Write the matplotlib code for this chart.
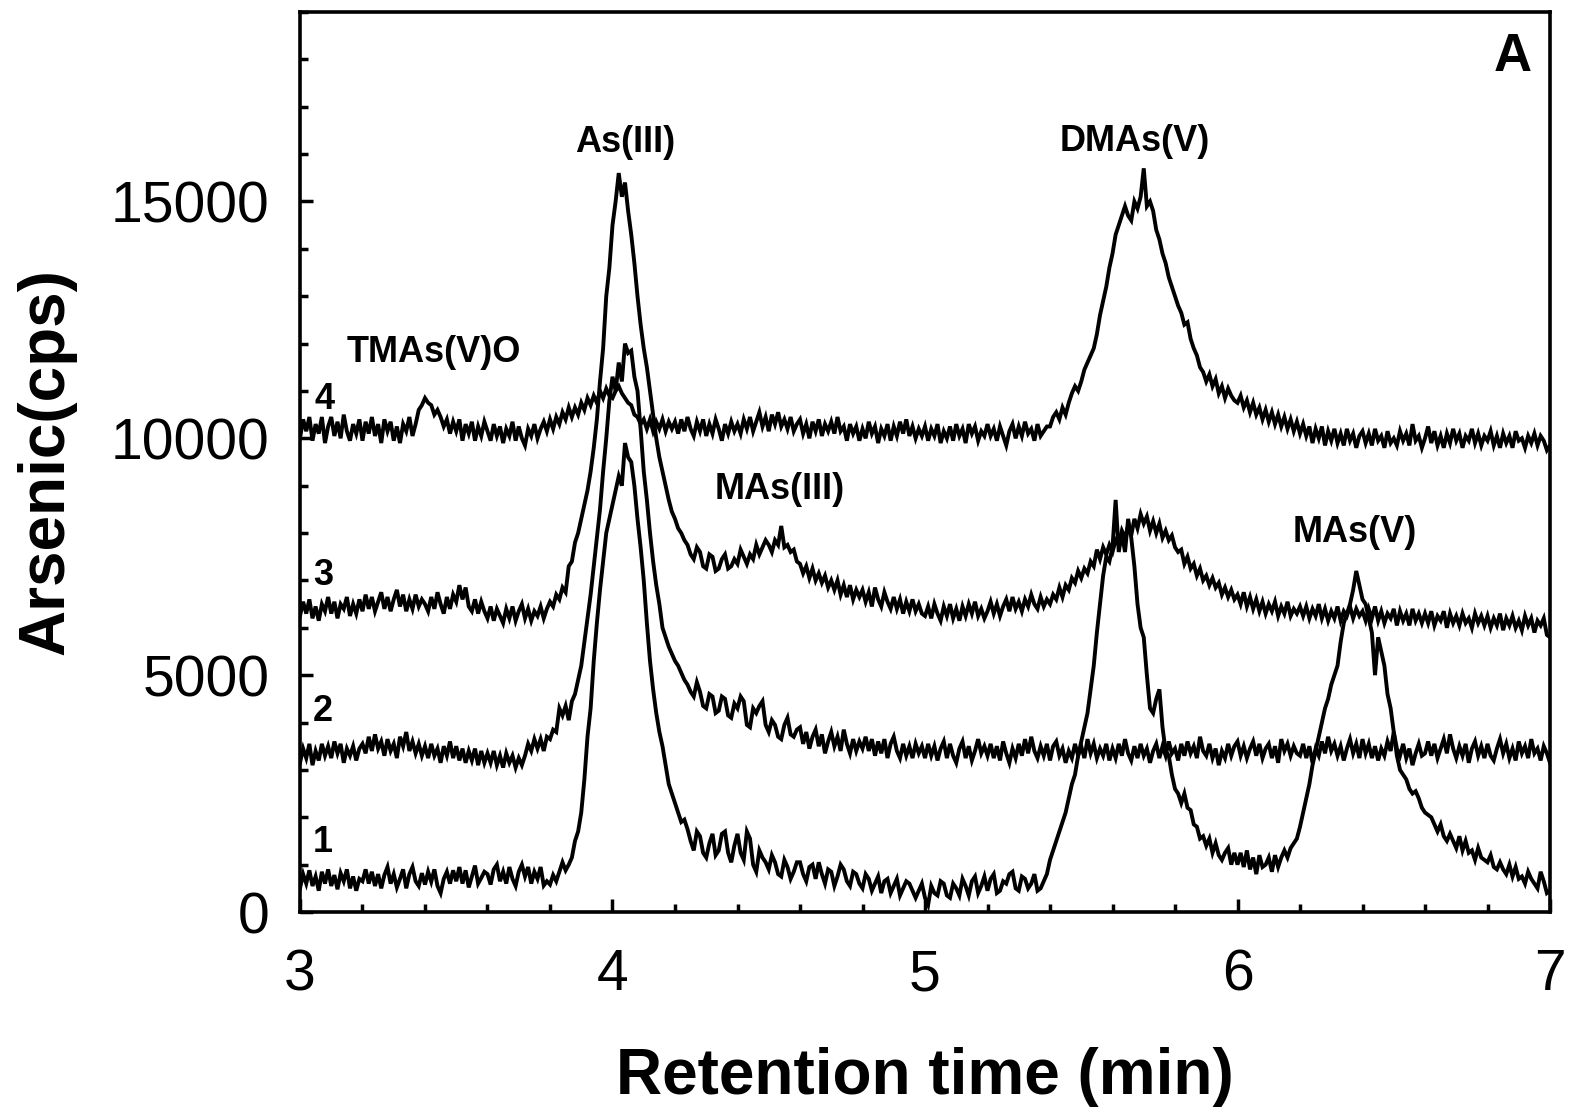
import matplotlib
matplotlib.use("Agg")
import matplotlib.pyplot as plt
from matplotlib.ticker import MultipleLocator
import numpy as np

plt.rcParams['font.family'] = ['Liberation Sans', 'DejaVu Sans']

# retention time grid (min): starts at 3.00, one reading every 0.01 min
time_start, time_step = 3.0, 0.01

# trace 1 (cps)
trace1 = [
    500, 800, 600, 880, 550, 750, 450, 850, 600, 900, 550, 780, 480, 820, 650, 900, 500, 750, 450, 700,
    650, 900, 600, 850, 550, 800, 500, 780, 950, 600, 800, 520, 700, 900, 500, 800, 950, 650, 550, 820,
    580, 850, 640, 900, 550, 400, 700, 850, 600, 880, 650, 950, 600, 880, 520, 750, 980, 600, 720, 850,
    800, 580, 900, 1000, 650, 850, 600, 950, 700, 550, 850, 1000, 750, 950, 600, 850, 700, 950, 560, 650,
    580, 780, 650, 850, 1050, 880, 1000, 1150, 1500, 1700, 2100, 2800, 3700, 4300, 5300, 6100, 6800, 7400, 8000, 8300,
    8600, 8900, 9200, 9000, 9900, 9600, 9500, 9000, 8300, 7700, 7000, 6100, 5300, 4700, 4200, 3800, 3500, 3100, 2700, 2500,
    2300, 2100, 1900, 1950, 1750, 1500, 1300, 1700, 1600, 1250, 1150, 1450, 1650, 1200, 1300, 1650, 1700, 1250, 1050, 1400,
    1650, 1250, 1100, 1700, 1550, 1000, 850, 1300, 1150, 1050, 900, 1200, 1050, 800, 750, 1100, 950, 700, 850, 1050,
    1050, 800, 650, 950, 1000, 700, 1050, 800, 600, 900, 850, 550, 750, 1000, 900, 650, 550, 850, 800, 600,
    500, 800, 700, 450, 600, 750, 400, 650, 700, 400, 550, 700, 350, 500, 650, 600, 450, 300, 450, 600,
    300, 150, 550, 400, 350, 650, 600, 350, 300, 600, 500, 350, 700, 550, 350, 650, 750, 400, 550, 750,
    450, 700, 800, 400, 450, 650, 600, 800, 850, 500, 450, 750, 700, 500, 600, 800, 450, 500, 650, 800,
    1100, 1300, 1500, 1700, 1900, 2100, 2400, 2700, 2900, 3300, 3600, 3900, 4200, 4700, 5200, 5900, 6500, 7100, 7500, 7400,
    7700, 8700, 7600, 8000, 7600, 8300, 7900, 7300, 6500, 6000, 5800, 5000, 4300, 4200, 4500, 4700, 3900, 3400, 3300, 2900,
    2600, 2500, 2300, 2500, 2200, 2150, 1850, 1800, 1550, 1600, 1400, 1550, 1250, 1450, 1200, 1100, 1250, 1350, 1000, 1250,
    1000, 1250, 950, 1300, 900, 1150, 800, 1200, 950, 1000, 1150, 850, 1200, 950, 1150, 1300, 1150, 1350, 1450, 1550,
    1800, 2100, 2400, 2700, 3100, 3400, 3700, 4000, 4300, 4500, 4800, 5000, 5200, 5700, 6100, 6300, 6500, 6800, 7200, 6900,
    6600, 6500, 6200, 5900, 5000, 5800, 5500, 5200, 4600, 4300, 3800, 3300, 3000, 2900, 2800, 2600, 2500, 2550, 2400, 2200,
    2100, 2050, 2000, 1850, 1700, 1850, 1600, 1500, 1650, 1500, 1350, 1600, 1300, 1500, 1250, 1300, 1100, 1350, 1150, 1100,
    1050, 1200, 950, 900, 1050, 900, 800, 1000, 750, 950, 700, 750, 600, 850, 700, 600, 500, 850, 650, 400,
    450,
]

# trace 2 (cps)
trace2 = [
    3150, 3450, 3250, 3550, 3100, 3400, 3200, 3550, 3300, 3500, 3250, 3600, 3350, 3550, 3150, 3450, 3300, 3500, 3200, 3450,
    3550, 3350, 3700, 3400, 3750, 3450, 3600, 3300, 3650, 3400, 3550, 3250, 3700, 3500, 3800, 3400, 3600, 3350, 3550, 3300,
    3500, 3250, 3550, 3300, 3450, 3150, 3500, 3300, 3600, 3250, 3500, 3200, 3450, 3150, 3400, 3200, 3450, 3100, 3400, 3150,
    3350, 3150, 3400, 3100, 3300, 3050, 3350, 3150, 3300, 3050, 3250, 3100, 3300, 3550, 3400, 3650, 3450, 3650, 3400, 3700,
    3650, 3850, 3800, 4300, 4150, 4350, 4050, 4450, 4600, 4900, 5200, 5700, 6200, 6700, 7300, 7900, 8500, 9300, 10000, 10800,
    11300, 11000, 11600, 11200, 12000, 11800, 11850, 11300, 11000, 10200, 9300, 8700, 8000, 7400, 6900, 6500, 6000, 5800, 5600, 5450,
    5300, 5200, 5050, 4900, 4800, 4650, 4550, 4850, 4650, 4350, 4300, 4600, 4550, 4200, 4250, 4550, 4500, 4150, 4100, 4400,
    4300, 4550, 4450, 3950, 3900, 4300, 4200, 4350, 4450, 3950, 3800, 4050, 3950, 3700, 3650, 3950, 4100, 3750, 3700, 3850,
    3900, 3550, 3800, 3450, 3700, 3850, 3500, 3750, 3350, 3600, 3800, 3500, 3700, 3400, 3850, 3550, 3350, 3650, 3400, 3600,
    3450, 3700, 3400, 3650, 3300, 3600, 3350, 3650, 3250, 3550, 3700, 3400, 3250, 3550, 3300, 3500, 3250, 3550, 3350, 3500,
    3250, 3550, 3300, 3500, 3200, 3450, 3600, 3250, 3550, 3300, 3150, 3450, 3600, 3250, 3500, 3200, 3400, 3650, 3350, 3500,
    3300, 3550, 3250, 3500, 3200, 3600, 3350, 3150, 3450, 3250, 3550, 3300, 3650, 3350, 3700, 3400, 3250, 3500, 3300, 3550,
    3200, 3500, 3600, 3300, 3450, 3150, 3400, 3250, 3550, 3300, 3500, 3250, 3650, 3350, 3550, 3250, 3450, 3300, 3550, 3200,
    3450, 3250, 3550, 3300, 3650, 3350, 3200, 3500, 3250, 3550, 3300, 3450, 3150, 3400, 3550, 3250, 3500, 3300, 3600, 3350,
    3450, 3200, 3550, 3300, 3600, 3350, 3500, 3250, 3700, 3400, 3300, 3550, 3250, 3450, 3100, 3400, 3250, 3550, 3300, 3500,
    3600, 3300, 3500, 3250, 3450, 3600, 3300, 3550, 3250, 3450, 3550, 3250, 3500, 3150, 3650, 3400, 3550, 3300, 3500, 3350,
    3300, 3550, 3250, 3500, 3150, 3450, 3300, 3600, 3350, 3700, 3400, 3550, 3300, 3500, 3200, 3450, 3650, 3350, 3550, 3250,
    3650, 3350, 3550, 3250, 3500, 3200, 3450, 3300, 3600, 3400, 3800, 3450, 3300, 3550, 3250, 3450, 3100, 3350, 3550, 3300,
    3350, 3600, 3300, 3550, 3250, 3450, 3650, 3350, 3750, 3450, 3250, 3500, 3300, 3550, 3150, 3450, 3600, 3300, 3500, 3250,
    3550, 3300, 3200, 3450, 3650, 3350, 3550, 3250, 3450, 3200, 3600, 3350, 3500, 3250, 3650, 3350, 3450, 3200, 3500, 3350,
    3150,
]

# trace 3 (cps)
trace3 = [
    6250, 6550, 6300, 6600, 6200, 6450, 6150, 6500, 6350, 6650, 6300, 6550, 6200, 6500, 6400, 6650, 6250, 6500, 6300, 6600,
    6350, 6700, 6400, 6650, 6350, 6550, 6750, 6400, 6650, 6350, 6600, 6800, 6450, 6700, 6350, 6600, 6400, 6700, 6450, 6600,
    6500, 6350, 6650, 6400, 6750, 6500, 6300, 6650, 6400, 6700, 6550, 6900, 6600, 6850, 6450, 6350, 6600, 6300, 6550, 6350,
    6200, 6450, 6150, 6400, 6250, 6100, 6400, 6200, 6450, 6150, 6350, 6500, 6200, 6400, 6150, 6350, 6250, 6450, 6200, 6400,
    6550, 6450, 6700, 6600, 6850, 6750, 7300, 7400, 7800, 8000, 8300, 8600, 8900, 9300, 9800, 10400, 11200, 11900, 13000, 13600,
    14500, 15000, 15600, 15100, 15400, 14800, 14300, 13700, 13000, 12400, 11900, 11500, 11000, 10500, 10000, 9600, 9300, 9000, 8700, 8450,
    8300, 8100, 8000, 7850, 7750, 7550, 7450, 7700, 7600, 7300, 7250, 7550, 7500, 7200, 7250, 7450, 7550, 7250, 7300, 7450,
    7350, 7650, 7500, 7350, 7550, 7450, 7750, 7550, 7700, 7850, 7750, 7600, 7850, 7750, 8150, 7700, 7750, 7600, 7650, 7400,
    7350, 7150, 7300, 7050, 7250, 7000, 7150, 6950, 7100, 6850, 7000, 6800, 7000, 6700, 6900, 6650, 6900, 6600, 6800, 6650,
    6800, 6550, 6750, 6450, 6850, 6600, 6450, 6750, 6550, 6400, 6650, 6400, 6600, 6300, 6550, 6350, 6600, 6350, 6500, 6300,
    6250, 6450, 6200, 6500, 6300, 6150, 6450, 6250, 6500, 6200, 6400, 6150, 6450, 6250, 6500, 6300, 6550, 6250, 6400, 6200,
    6350, 6550, 6300, 6500, 6250, 6450, 6600, 6350, 6650, 6400, 6550, 6350, 6600, 6450, 6700, 6500, 6400, 6650, 6450, 6600,
    6500, 6700, 6600, 6850, 6650, 6900, 6800, 7050, 6950, 7200, 7050, 7250, 7150, 7400, 7300, 7650, 7450, 7700, 7550, 7750,
    7600, 7850, 7750, 8050, 7900, 8150, 7950, 8300, 8100, 8400, 8200, 8350, 8050, 8250, 8000, 8200, 7900, 8050, 7850, 7950,
    7700, 7600, 7650, 7350, 7500, 7250, 7350, 7100, 7250, 7000, 7100, 6900, 7050, 6850, 6950, 6700, 6850, 6650, 6800, 6600,
    6700, 6500, 6750, 6450, 6650, 6400, 6600, 6350, 6550, 6300, 6500, 6350, 6550, 6250, 6450, 6300, 6550, 6250, 6400, 6300,
    6450, 6250, 6450, 6200, 6400, 6250, 6500, 6200, 6400, 6150, 6350, 6200, 6450, 6150, 6350, 6250, 6450, 6200, 6400, 6250,
    6350, 6150, 6400, 6200, 6450, 6150, 6350, 6100, 6300, 6200, 6400, 6050, 6350, 6150, 6300, 6050, 6400, 6150, 6300, 6100,
    6300, 6100, 6350, 6050, 6250, 6150, 6350, 6000, 6300, 6100, 6250, 6050, 6300, 6100, 6200, 6000, 6300, 6100, 6250, 6050,
    6250, 6000, 6200, 6050, 6300, 5950, 6200, 6050, 6250, 6000, 6150, 5950, 6250, 6050, 6200, 5900, 6150, 6050, 6200, 5850,
    5800,
]

# trace 4 (cps)
trace4 = [
    10000, 10400, 10150, 10450, 9950, 10300, 10100, 10450, 9900, 10250, 10450, 10050, 10350, 10000, 10500, 10150, 9950, 10300, 10100, 10400,
    9950, 10350, 10100, 10450, 10050, 10300, 9900, 10400, 10150, 10350, 9950, 10250, 9900, 10300, 10150, 10450, 10050, 10300, 10600, 10700,
    10850, 10750, 10700, 10500, 10600, 10450, 10250, 10400, 10100, 10350, 10150, 10400, 9950, 10300, 10100, 10350, 9950, 10250, 10050, 10350,
    10150, 9950, 10300, 10050, 10250, 9900, 10200, 10050, 10350, 9950, 10250, 10000, 9850, 10200, 10050, 10300, 10000, 10200, 10350, 10150,
    10400, 10200, 10450, 10300, 10550, 10400, 10650, 10450, 10650, 10500, 10750, 10600, 10850, 10700, 10900, 10750, 11000, 10850, 11050, 10900,
    10850, 11000, 11100, 10950, 10850, 10750, 10700, 10500, 10450, 10300, 10400, 10200, 10400, 10150, 10350, 10200, 10400, 10150, 10350, 10200,
    10350, 10100, 10400, 10150, 10450, 10200, 10050, 10350, 10150, 10400, 10050, 10300, 10100, 10400, 10200, 9950, 10300, 10100, 10350, 10150,
    10300, 10100, 10400, 10200, 10450, 10150, 10350, 10550, 10250, 10450, 10150, 10500, 10300, 10550, 10250, 10400, 10200, 10450, 10150, 10300,
    10400, 10100, 10300, 10000, 10350, 10150, 10400, 10050, 10300, 10150, 10350, 10100, 10450, 10150, 10250, 9950, 10300, 10100, 10250, 9950,
    10200, 10000, 10350, 10100, 10250, 9900, 10200, 10050, 10300, 9950, 10250, 10050, 10350, 10100, 10400, 10050, 10250, 10000, 10200, 10050,
    10250, 9950, 10200, 10050, 10300, 9900, 10150, 10000, 10250, 9950, 10300, 10050, 10200, 9900, 10300, 10100, 10250, 9950, 10150, 10050,
    10300, 10050, 10200, 9950, 10250, 10050, 9850, 10150, 10300, 10000, 10250, 10050, 10350, 10100, 10200, 9950, 10300, 10050, 10150, 10250,
    10250, 10450, 10550, 10400, 10650, 10500, 10750, 10950, 11100, 11000, 11200, 11450, 11600, 11750, 11900, 12200, 12600, 12900, 13200, 13600,
    13900, 14300, 14500, 14700, 14900, 14700, 14600, 15000, 14850, 15100, 15700, 14900, 15000, 14800, 14400, 14200, 13900, 13700, 13400, 13200,
    13000, 12800, 12650, 12400, 12450, 12100, 11900, 11750, 11500, 11400, 11200, 11350, 11100, 11250, 10950, 11100, 10850, 11050, 10900, 10800,
    10750, 10900, 10650, 10800, 10550, 10750, 10500, 10650, 10400, 10600, 10350, 10550, 10300, 10500, 10250, 10450, 10200, 10400, 10150, 10350,
    10100, 10300, 10050, 10250, 9900, 10200, 10000, 10250, 9850, 10150, 9950, 10200, 9900, 10100, 9850, 10200, 9950, 10100, 9800, 10050,
    10150, 9900, 10100, 9850, 10200, 9950, 10050, 9800, 10150, 9900, 10000, 9850, 10150, 9950, 10100, 9850, 10300, 9950, 10050, 9800,
    10000, 10250, 9900, 10150, 9850, 10050, 9800, 10100, 9900, 10200, 9950, 10100, 9800, 10050, 9950, 10200, 9900, 10100, 9850, 10050,
    9950, 10150, 9850, 10050, 9800, 10100, 9900, 10050, 9800, 10150, 9950, 10000, 9800, 10050, 9900, 10100, 9850, 10050, 9950, 9750,
    9850,
]

traces = [trace1, trace2, trace3, trace4]
trace_labels = ["1", "2", "3", "4"]
trace_label_pos = [(3.074, 1460), (3.074, 4230), (3.074, 7100), (3.08, 10820)]

peak_labels = ["As(III)", "DMAs(V)", "TMAs(V)O", "MAs(III)", "MAs(V)"]
peak_label_pos = [(4.04, 16250), (5.672, 16270), (3.429, 11810), (4.536, 8917), (6.376, 8008)]

fig = plt.figure(figsize=(15.69, 11.11), dpi=100)
ax = fig.add_axes([0.1912, 0.1791, 0.7967, 0.8101])

for tr in traces:
    t = time_start + time_step * np.arange(len(tr))
    ax.plot(t, tr, color='black', lw=2.8, solid_joinstyle='miter')

ax.set_xlim(3, 7)
ax.set_ylim(0, 19000)
ax.set_xticks([3, 4, 5, 6, 7])
ax.set_yticks([0, 5000, 10000, 15000])
ax.xaxis.set_minor_locator(MultipleLocator(0.2))
ax.yaxis.set_minor_locator(MultipleLocator(1000))
ax.tick_params(which='both', direction='in', top=False, right=False, width=2.5)
ax.tick_params(which='major', length=9.5, labelsize=41)
ax.tick_params(which='minor', length=6)
ax.tick_params(axis='y', which='major', pad=22)
ax.tick_params(axis='x', which='major', pad=26)
for s in ax.spines.values():
    s.set_linewidth(2.6)

ax.set_xlabel("Retention time (min)", fontsize=46, fontweight='bold', labelpad=32)
ax.set_ylabel("Arsenic(cps)", fontsize=46, fontweight='bold', labelpad=25)

for lab, (x, y) in zip(trace_labels, trace_label_pos):
    ax.text(x, y, lab, fontsize=26, fontweight='bold', ha='center', va='center')
for lab, (x, y) in zip(peak_labels, peak_label_pos):
    ax.text(x, y, lab, fontsize=26, fontweight='bold', ha='center', va='center')
ax.text(6.882, 18045, "A", fontsize=38, fontweight='bold', ha='center', va='center')

fig.savefig("out.png", dpi=100)
